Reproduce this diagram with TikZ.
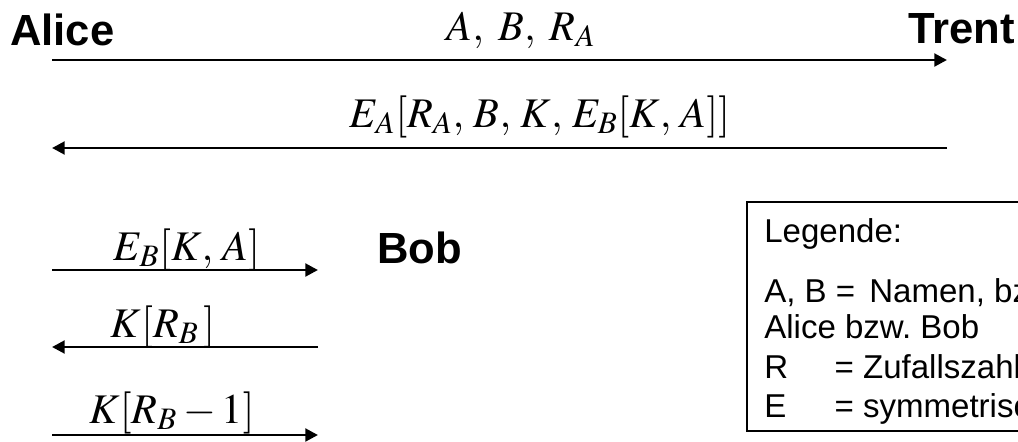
\documentclass[tikz,border=0pt]{standalone}
\usepackage{mathptmx}
\usepackage{fontspec}
\setmainfont{Liberation Sans}
\usetikzlibrary{arrows.meta}

\begin{document}
\begin{tikzpicture}[x=0.025cm,y=-0.025cm,
	party/.style={inner sep=0pt,font=\fontsize{31}{36}\selectfont\bfseries},
	msg/.style={inner sep=0pt,anchor=base,font=\fontsize{30}{35}\selectfont},
	legtext/.style={inner sep=0pt,anchor=base west,font=\fontsize{23.5}{27}\selectfont},
	flow/.style={line width=2.1pt,-{Triangle[length=9pt,width=9pt]}}]
			\useasboundingbox (0,0) rectangle (1018,441);
			\clip (0,0) rectangle (1018,441);
			% Teilnehmer
			\node[party,anchor=base west] (Alice)at(10,45) {Alice};
			\node[party,anchor=base east] (Trent)at(1015,43) {Trent};
			\node[party,anchor=base west] (Bob)at(377,263) {Bob};
			% Endpunkte der Nachrichten
			\coordinate (a1)at(52,60);
			\coordinate (t1)at(947,60);
			\coordinate (a2)at(52,148);
			\coordinate (t2)at(947,148);
			\coordinate (a3)at(52,270);
			\coordinate (b3)at(318,270);
			\coordinate (a4)at(52,347);
			\coordinate (b4)at(318,347);
			\coordinate (a5)at(52,435);
			\coordinate (b5)at(318,435);
			% Nachrichten
			\node[msg] (m1)at(521,40) {$A,\;B,\;R_A$};
			\node[msg] (m2)at(540,127) {$E_A[R_A,\,B,\,K,\,E_B[K,\,A]]$};
			\node[msg] (m3)at(187,260) {$E_B[K,\,A]$};
			\node[msg] (m4)at(163,337) {$K[R_B\,]$};
			\node[msg] (m5)at(172,423) {$K[R_B - 1]$};
			\draw[flow] (a1) -- (t1);
			\draw[flow] (t2) -- (a2);
			\draw[flow] (a3) -- (b3);
			\draw[flow] (b4) -- (a4);
			\draw[flow] (a5) -- (b5);
			% Legende
			\draw[line width=1.6pt] (747,202) rectangle (1040,431);
			\node[legtext] (L0)at(764,242) {Legende:};
			\node[legtext] (L1)at(764,302) {A, B =\hspace{10pt}Namen, bz};
			\node[legtext] (L2)at(764,338) {Alice bzw.\ Bob};
			\node[legtext] (L3)at(764,378) {\makebox[50pt][l]{R}= Zufallszahl};
			\node[legtext] (L4)at(764,417) {\makebox[50pt][l]{E}= symmetrisc};
		\end{tikzpicture}
\end{document}
